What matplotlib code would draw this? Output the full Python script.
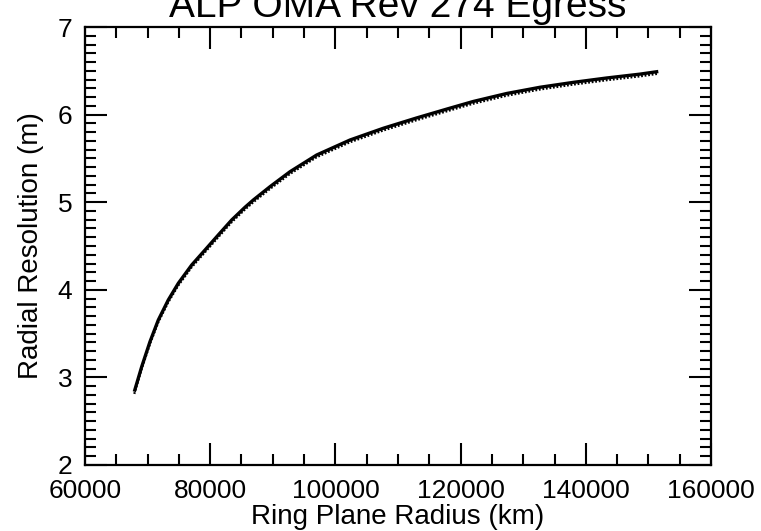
import matplotlib.pyplot as plt
from matplotlib.ticker import MultipleLocator
from matplotlib.transforms import offset_copy

plt.rcParams['font.family'] = ['Liberation Sans', 'DejaVu Sans']

# valores
radio_km = [67875, 69057, 70383, 71709, 73306, 74904, 77044, 79169, 81293,
            83434, 85558, 86884, 89552, 92747, 97012, 102331, 107650,
            112986, 118034, 122028, 127364, 132682, 138002, 143338,
            148657, 151580]
resolucion_m = [2.837, 3.122, 3.408, 3.655, 3.884, 4.074, 4.283, 4.454,
                4.626, 4.797, 4.942, 5.025, 5.177, 5.348, 5.539, 5.710,
                5.844, 5.962, 6.068, 6.150, 6.241, 6.312, 6.368, 6.418,
                6.462, 6.492]

titulo = 'ALP OMA Rev 274 Egress'

fig = plt.figure(figsize=(7.61, 5.31), dpi=100)
ax = fig.add_axes([85 / 761, 66 / 531, 626 / 761, 438 / 531])

ax.plot(radio_km, resolucion_m, color='black', lw=2.4, solid_capstyle='butt')
# borde punteado bajo la curva (textura del original)
tr = offset_copy(ax.transData, fig=fig, x=0, y=-1.6, units='points')
ax.plot(radio_km, resolucion_m, color='black', lw=1.6, ls=(0, (0.8, 0.8)),
        transform=tr)

ax.set_xlim(60000, 160000)
ax.set_ylim(2, 7)
ax.xaxis.set_major_locator(MultipleLocator(20000))
ax.xaxis.set_minor_locator(MultipleLocator(5000))
ax.yaxis.set_major_locator(MultipleLocator(1))
ax.yaxis.set_minor_locator(MultipleLocator(0.1))

ax.tick_params(which='both', direction='in', top=True, right=True,
               width=1.5, colors='black', labelsize=19)
ax.tick_params(which='major', length=16)
ax.tick_params(which='minor', length=8)
ax.tick_params(axis='x', pad=10)
ax.tick_params(axis='y', pad=9)
for s in ax.spines.values():
    s.set_linewidth(1.6)

ax.set_xlabel('Ring Plane Radius (km)', fontsize=20, labelpad=1)
ax.set_ylabel('Radial Resolution (m)', fontsize=20, labelpad=10)

# titulo cortado arriba, como en el original
fig.text(398 / 761, 1 - 17 / 531, titulo, ha='center', va='baseline',
         fontsize=28)

fig.savefig('out.png', dpi=100)
